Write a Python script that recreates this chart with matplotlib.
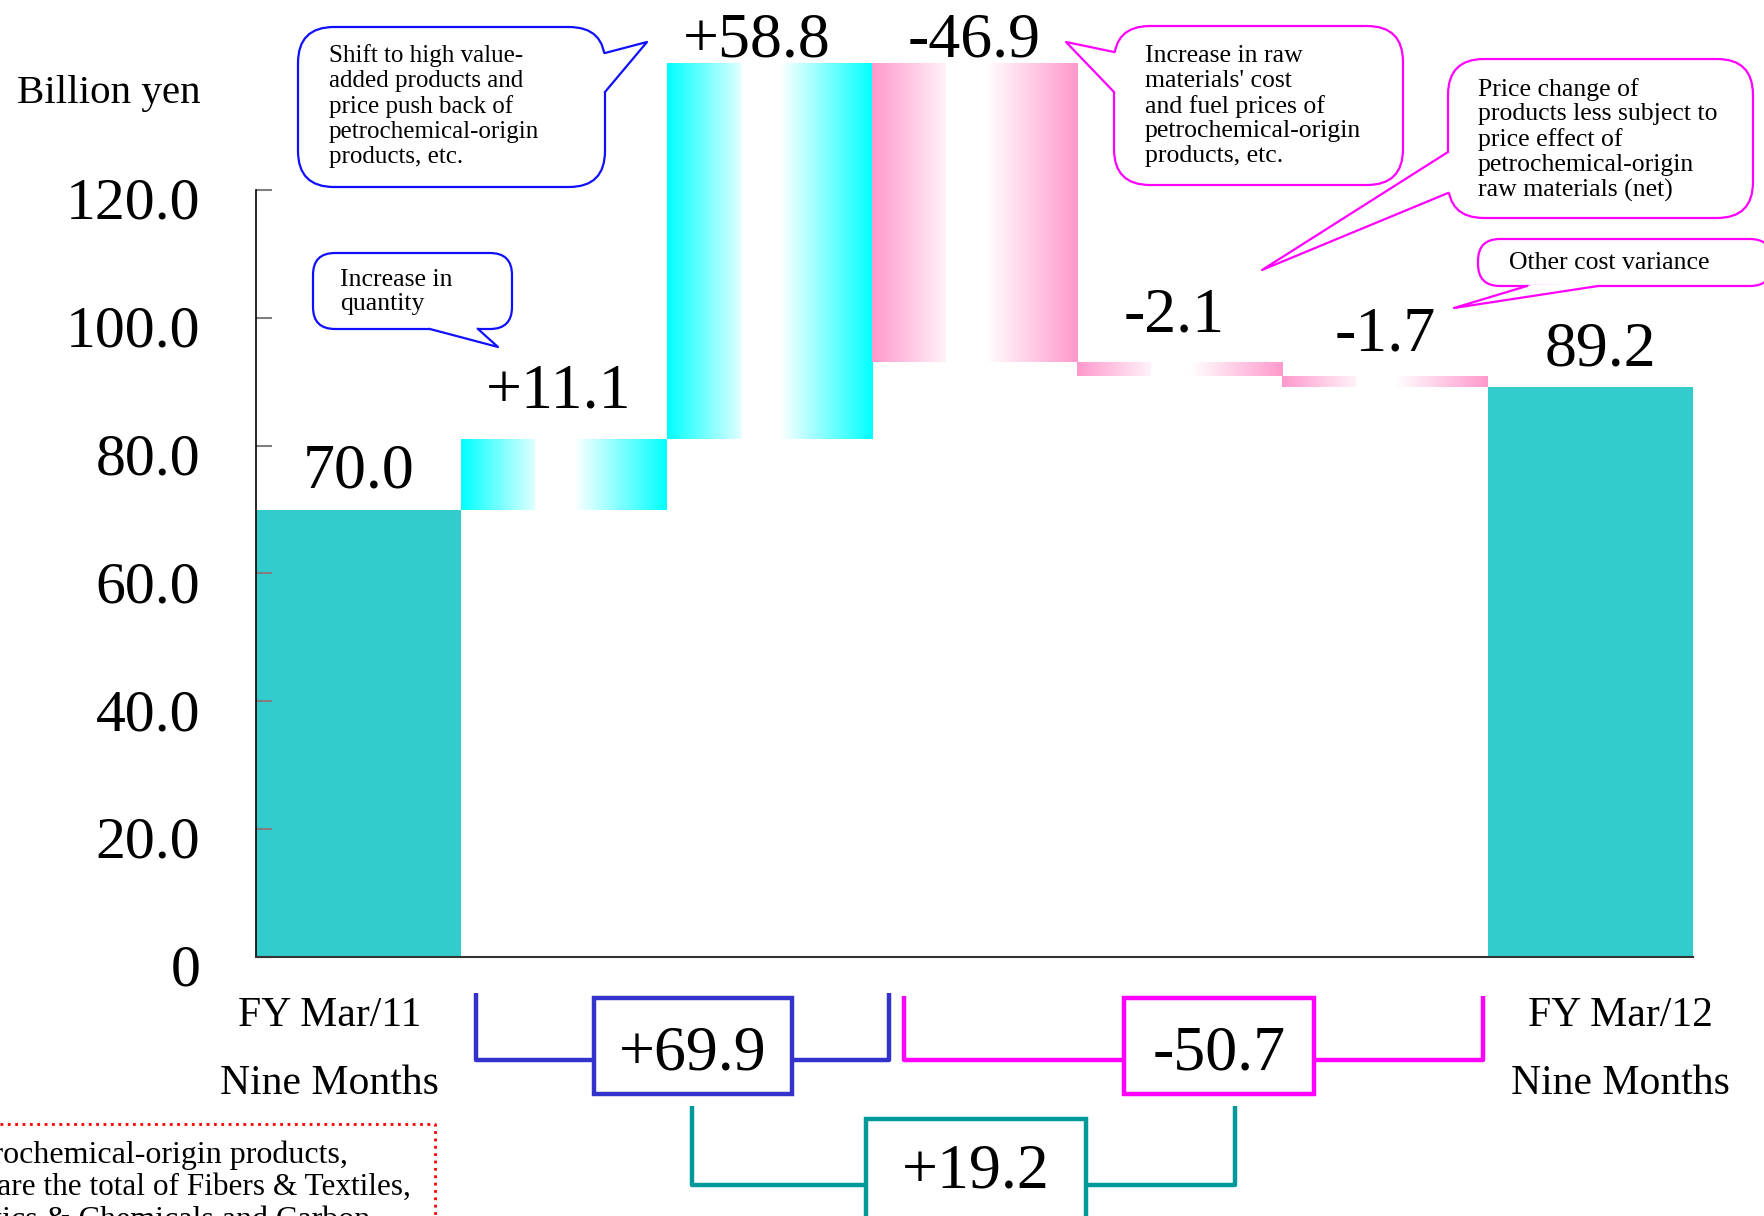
import numpy as np
import matplotlib.pyplot as plt
import matplotlib.transforms as mtransforms
from matplotlib.patches import FancyBboxPatch, Polygon, Rectangle

plt.rcParams['font.family'] = ['Liberation Serif', 'DejaVu Serif']

# ---- data ----
categories = ["FY Mar/11\nNine Months", "Increase in quantity", "Shift to high value-added",
              "Raw materials and fuel", "Price change (net)", "Other cost variance",
              "FY Mar/12\nNine Months"]
values = [70.0, 11.1, 58.8, -46.9, -2.1, -1.7, 89.2]
is_total = [True, False, False, False, False, False, True]
yticks = [0, 20, 40, 60, 80, 100, 120]
ytick_labels = ["0", "20.0", "40.0", "60.0", "80.0", "100.0", "120.0"]

# waterfall bottoms / heights
bottoms, heights = [], []
running = 0.0
for v, tot in zip(values, is_total):
    if tot:
        bottoms.append(0.0)
        heights.append(v)
        running = v
    else:
        bottoms.append(running if v > 0 else running + v)
        heights.append(abs(v))
        running += v
tops = [b + h for b, h in zip(bottoms, heights)]

up_sum = sum(v for v, t in zip(values, is_total) if not t and v > 0)
down_sum = sum(v for v, t in zip(values, is_total) if not t and v < 0)
net_change = values[-1] - values[0]

total_color = '#33CCCC'
up_color = np.array([0.0, 1.0, 1.0])
down_color = np.array([1.0, 0.6, 0.8])

W, H = 1764, 1216
fig = plt.figure(figsize=(W / 100, H / 100), dpi=100)
ax = fig.add_axes([256 / W, 259 / H, 1437 / W, 957 / H])

x = np.arange(len(values))
colors = [total_color if t else ('#00FFFF' if v > 0 else '#FF99CC') for v, t in zip(values, is_total)]
bars = ax.bar(x, heights, bottom=bottoms, width=1.0, color=colors, edgecolor='none', zorder=1)

# horizontal gradient: colour at the edges, white in the middle
t = np.linspace(0, 1, 300)
w = np.interp(t, [0, 0.36, 0.361, 0.55, 1.0], [0, 0.88, 1.0, 1.0, 0])
for b, v, tot in zip(bars, values, is_total):
    if tot:
        continue
    c = up_color if v > 0 else down_color
    img = (c[None, :] * (1 - w[:, None]) + w[:, None])[None, :, :]
    x0, y0 = b.get_x(), b.get_y()
    im = ax.imshow(img, extent=[x0, x0 + b.get_width(), y0, y0 + b.get_height()],
                   aspect='auto', zorder=1.5, interpolation='bilinear')
    im.set_clip_path(b)

ax.set_xlim(-0.5, 6.5)
ax.set_ylim(0, 149.7)
ax.set_aspect('auto')
for s in ['top', 'right']:
    ax.spines[s].set_visible(False)
ax.spines['left'].set_bounds(0, 120)
ax.spines['left'].set_linewidth(1.2)
ax.spines['bottom'].set_color('#333333')
ax.spines['bottom'].set_linewidth(1.5)
ax.set_xticks([])
ax.set_yticks(yticks, ytick_labels)
ax.tick_params(axis='y', direction='in', length=11.5, width=1.5, color='gray', pad=40, labelsize=43)
off = mtransforms.ScaledTranslation(0, -6 / 72, fig.dpi_scale_trans)
for lab in ax.get_yticklabels():
    lab.set_transform(lab.get_transform() + off)

# value labels above bars
label_dy = [27, 33, 15, 15, 33, 29, 26]
label_dx = [0, -4, -9, 0, -4, 0, 7]
for i, (v, tot) in enumerate(zip(values, is_total)):
    txt = f"{v:.1f}" if tot else f"{v:+.1f}"
    ax.annotate(txt, (x[i], tops[i]), xytext=(label_dx[i], label_dy[i]), textcoords='offset points',
                ha='center', va='center', fontsize=46, annotation_clip=False)

# category labels under the total bars
for i, dx in [(0, -21), (6, 22)]:
    line1, line2 = categories[i].split("\n")
    ax.annotate(line1, (x[i], 0), xytext=(dx, -42), textcoords='offset points',
                ha='center', va='center', fontsize=30, annotation_clip=False)
    ax.annotate(line2, (x[i], 0), xytext=(dx, -91), textcoords='offset points',
                ha='center', va='center', fontsize=30, annotation_clip=False)

# ---- overlay in pixel coordinates for callouts and brackets ----
ov = fig.add_axes([0, 0, 1, 1])
ov.set_xlim(0, W)
ov.set_ylim(H, 0)
ov.axis('off')
ov.patch.set_alpha(0)

ov.text(17, 93, "Billion yen", ha='left', va='center', fontsize=29.5)


def callout(box, tail, color, text, tx, ty, r=32, fs=18.5):
    x0, y0, x1, y1 = box
    ov.add_patch(FancyBboxPatch((x0, y0), x1 - x0, y1 - y0,
                                boxstyle=f"round,pad=0,rounding_size={r}",
                                fc='white', ec=color, lw=1.6, zorder=3))
    cx, cy = (x0 + x1) / 2, (y0 + y1) / 2
    b1, tip, b2 = tail
    def inward(p):
        dx, dy = cx - p[0], cy - p[1]
        n = np.hypot(dx, dy)
        return (p[0] + 4 * dx / n, p[1] + 4 * dy / n)
    ov.add_patch(Polygon([inward(b1), b1, tip, b2, inward(b2)], closed=True,
                         fc='white', ec='none', zorder=4))
    ov.plot([b1[0], tip[0], b2[0]], [b1[1], tip[1], b2[1]], color=color, lw=1.6, zorder=5)
    ov.text(tx, ty, text, ha='left', va='center', fontsize=fs, linespacing=1.17, zorder=6)


blue = '#1010FF'
mag = '#FF00FF'
callout((298, 27, 605, 187), [(605, 53), (647, 42), (605, 92)], blue,
        "Shift to high value-\nadded products and\nprice push back of\npetrochemical-origin\nproducts, etc.",
        329, 106, r=36, fs=18)
callout((313, 253, 512, 329), [(430, 329), (498, 347), (478, 329)], blue,
        "Increase in\nquantity", 340, 292, r=22)
callout((1114, 26, 1403, 185), [(1114, 52), (1066, 42), (1114, 92)], mag,
        "Increase in raw\nmaterials' cost\nand fuel prices of\npetrochemical-origin\nproducts, etc.",
        1145, 106, r=36)
callout((1448, 59, 1753, 218), [(1448, 152), (1262, 270), (1448, 193)], mag,
        "Price change of\nproducts less subject to\nprice effect of\npetrochemical-origin\nraw materials (net)",
        1478, 140, r=36)
callout((1478, 239, 1772, 286), [(1527, 286), (1454, 308), (1598, 286)], mag,
        "Other cost variance", 1509, 263, r=22)


def bracket(xl, xr, ytop, ybot, box, color, value):
    bx0, by0, bx1, by1 = box
    ov.plot([xl, xl, bx0], [ytop, ybot, ybot], color=color, lw=3.2, solid_capstyle='butt', zorder=3)
    ov.plot([bx1, xr, xr], [ybot, ybot, ytop], color=color, lw=3.2, solid_capstyle='butt', zorder=3)
    ov.add_patch(Rectangle((bx0, by0), bx1 - bx0, by1 - by0, fc='white', ec=color, lw=3.2, zorder=4))
    ov.text((bx0 + bx1) / 2, min((by0 + by1) / 2 + 9, 1173), f"{value:+.1f}", ha='center', va='center',
            fontsize=46, zorder=5)


bracket(476, 889, 993, 1060, (594, 998, 792, 1094), '#3333CC', up_sum)
bracket(904, 1483, 996, 1060, (1124, 998, 1314, 1094), mag, down_sum)
bracket(692, 1235, 1106, 1185, (866, 1119, 1086, 1240), '#009999', net_change)

# footnote box cut by the slide edge
ov.plot([0, 435, 435], [1124, 1124, 1230], color='red', ls=':', lw=2, zorder=3)
ov.text(348, 1155, "*For petrochemical-origin products,", ha='right', va='center', fontsize=23)
ov.text(411, 1187, "'Others' are the total of Fibers & Textiles,", ha='right', va='center', fontsize=22.5)
ov.text(370, 1221, "Plastics & Chemicals and Carbon", ha='right', va='center', fontsize=23)

fig.savefig('out.png', dpi=100)
